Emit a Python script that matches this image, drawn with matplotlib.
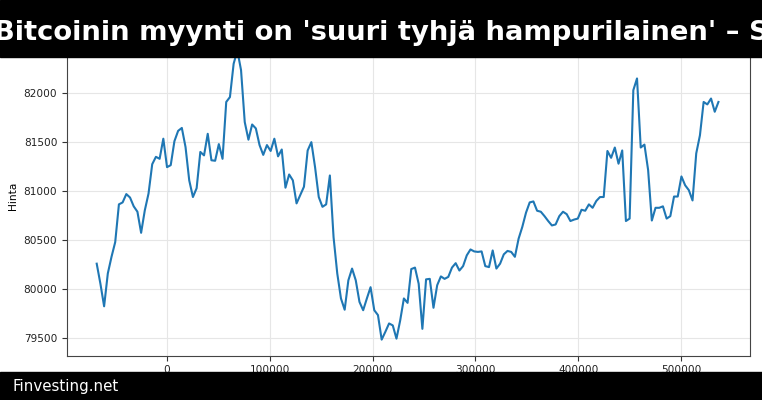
import numpy as np
import matplotlib
matplotlib.use("Agg")
import matplotlib.pyplot as plt

# hourly samples, x in seconds
hours = np.arange(-19, 150)
price = [
    80255, 80050, 79820, 80155, 80325, 80475, 80860, 80880, 80965, 80930,
    80840, 80785, 80570, 80800, 80970, 81270, 81345, 81325, 81530, 81240,
    81260, 81505, 81610, 81640, 81445, 81105, 80935, 81025, 81395, 81360,
    81580, 81310, 81305, 81475, 81325, 81905, 81955, 82295, 82430, 82230,
    81700, 81520, 81675, 81635, 81465, 81365, 81465, 81405, 81530, 81350,
    81420, 81030, 81165, 81105, 80870, 80955, 81040, 81410, 81495, 81240,
    80935, 80835, 80860, 81155, 80525, 80155, 79900, 79785, 80085, 80205,
    80085, 79865, 79780, 79900, 80015, 79780, 79730, 79480, 79560, 79645,
    79625, 79490, 79675, 79900, 79855, 80200, 80215, 80050, 79590, 80095,
    80100, 79805, 80035, 80125, 80100, 80120, 80215, 80260, 80185, 80230,
    80340, 80400, 80380, 80375, 80380, 80230, 80220, 80390, 80205, 80255,
    80350, 80385, 80375, 80325, 80510, 80630, 80775, 80880, 80890, 80795,
    80785, 80740, 80690, 80645, 80655, 80740, 80785, 80760, 80690, 80705,
    80715, 80805, 80795, 80860, 80825, 80895, 80935, 80935, 81405, 81335,
    81440, 81275, 81410, 80690, 80715, 82025, 82145, 81440, 81470, 81210,
    80695, 80825, 80825, 80840, 80715, 80740, 80940, 80940, 81145, 81055,
    81005, 80900, 81380, 81565, 81905, 81880, 81940, 81805, 81905,
]
x = hours * 3600

title = "Bitcoinin myynti on 'suuri tyhjä hampurilainen' – S"
source = "Finvesting.net"

fig = plt.figure(figsize=(7.62, 4.0), dpi=100)
ax = fig.add_axes([67 / 762, 1 - 355.5 / 400, (750 - 67) / 762, (355.5 - 36) / 400])

ax.plot(x, price, color="#1f77b4", lw=1.5)
ax.set_xlim(-97300, 567100)
ax.set_ylim(79318, 82578)
ax.set_yticks([79500, 80000, 80500, 81000, 81500, 82000])
ax.set_xticks([0, 100000, 200000, 300000, 400000, 500000])
ax.grid(True, color="#e6e6e6", lw=0.8)
ax.set_axisbelow(True)
for s in ax.spines.values():
    s.set_color("#444444")
ax.tick_params(labelsize=7.6, colors="#333333", labelcolor="#222222")
ax.set_ylabel("Hinta", fontsize=7.6, labelpad=4)

# black bars on top and bottom
fig.patches.append(plt.Rectangle((0, 1 - 57 / 400), 1, 57 / 400, transform=fig.transFigure,
                                 color="black", zorder=10))
fig.patches.append(plt.Rectangle((0, 0), 1, 28.5 / 400, transform=fig.transFigure,
                                 color="black", zorder=10))
fig.text(0.5, 1 - 33 / 400, title, color="white", fontsize=19.7, fontweight="bold",
         ha="center", va="center", zorder=11)
fig.text(12 / 762, 14 / 400, source, color="white", fontsize=10.8,
         ha="left", va="center", zorder=11)

fig.savefig("out.png", dpi=100)
